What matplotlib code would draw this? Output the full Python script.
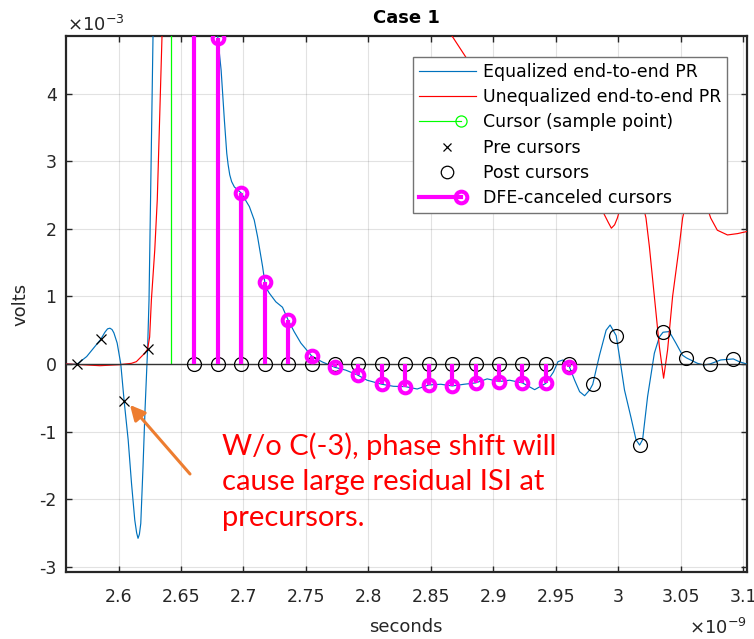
import matplotlib
matplotlib.use("Agg")
import matplotlib.pyplot as plt
from matplotlib.lines import Line2D
from matplotlib.legend_handler import HandlerBase

# ---------------- data (time in ns, i.e. x1e-9 s; volts in x1e-3) ----------------
eq_t = [2.5582, 2.5630, 2.5670, 2.5745, 2.5798, 2.58575, 2.5891, 2.5912, 2.5931, 2.5948,
        2.5963, 2.5989, 2.6018, 2.6045, 2.6077, 2.6104, 2.6130, 2.6145, 2.6156, 2.6167,
        2.6178, 2.6196, 2.6212, 2.62325, 2.6244, 2.6260, 2.6276, 2.6350, 2.6450, 2.6600,
        2.6700, 2.6780, 2.6795, 2.6821, 2.6847, 2.6866, 2.6877, 2.6890, 2.6905, 2.6927,
        2.69825, 2.7047, 2.7086, 2.7113, 2.7153, 2.7170, 2.7190, 2.7206, 2.7259, 2.7312,
        2.73575, 2.7405, 2.7459, 2.7545, 2.7631, 2.77325, 2.7817, 2.7910, 2.7989, 2.81075,
        2.8200, 2.8295, 2.8390, 2.84825, 2.8580, 2.8670, 2.8765, 2.88575, 2.8950, 2.9045,
        2.9130, 2.92325, 2.9330, 2.9420, 2.9480, 2.9517, 2.9557, 2.96075, 2.9650, 2.9690,
        2.9730, 2.9770, 2.9795, 2.9849, 2.9902, 2.9934, 2.99825, 3.0009, 3.0049, 3.0102,
        3.0141, 3.0170, 3.0194, 3.0234, 3.0288, 3.0328, 3.03575, 3.0407, 3.0460, 3.0513,
        3.0545, 3.0633, 3.0686, 3.07325, 3.0819, 3.0920, 3.0966, 3.1027]
eq_v = [0.00, -0.005, 0.00, 0.11, 0.23, 0.365, 0.47, 0.52, 0.53, 0.51,
        0.46, 0.31, 0.00, -0.55, -1.12, -1.77, -2.31, -2.50, -2.58, -2.52,
        -2.36, -1.52, -0.68, 0.22, 0.95, 2.90, 4.86, 10.0, 13.0, 10.0,
        7.50, 5.30, 4.82, 4.35, 3.61, 3.12, 2.95, 2.80, 2.70, 2.62,
        2.53, 2.33, 2.13, 1.88, 1.44, 1.22, 1.10, 1.05, 0.92, 0.84,
        0.65, 0.48, 0.31, 0.12, 0.03, -0.05, -0.09, -0.16, -0.24, -0.30,
        -0.33, -0.335, -0.37, -0.31, -0.30, -0.325, -0.30, -0.28, -0.22, -0.26,
        -0.24, -0.28, -0.38, -0.286, -0.12, 0.035, 0.06, -0.04, -0.24, -0.41,
        -0.47, -0.385, -0.30, 0.13, 0.50, 0.577, 0.42, 0.11, -0.385, -0.80,
        -1.12, -1.20, -1.12, -0.48, 0.16, 0.40, 0.47, 0.48, 0.31, 0.13,
        0.09, 0.01, -0.015, 0.00, 0.06, 0.075, 0.035, 0.00]

uneq_t = [2.5582, 2.5700, 2.5851, 2.6010, 2.6104, 2.6143, 2.6183, 2.6210, 2.62325, 2.6249,
          2.6263, 2.6290, 2.6310, 2.6330, 2.6348, 2.6400, 2.6600, 2.7500, 2.8200, 2.8667,
          2.8787, 2.9000, 2.9300, 2.9600, 2.9850, 2.9918, 2.9944, 2.9970, 2.9992, 3.0060,
          3.0140, 3.0221, 3.0248, 3.0288, 3.0328, 3.0362, 3.0394, 3.0434, 3.0487, 3.0514,
          3.0580, 3.0660, 3.0739, 3.0792, 3.0873, 3.0954, 3.1027]
uneq_v = [0.00, -0.01, -0.025, -0.01, 0.01, 0.035, 0.11, 0.16, 0.22, 0.40,
          0.95, 1.69, 2.43, 3.70, 4.86, 7.00, 10.0, 12.0, 8.00, 4.86,
          4.52, 4.00, 3.30, 2.75, 2.35, 2.10, 2.01, 2.06, 2.16, 2.60,
          2.80, 2.16, 1.74, 1.00, 0.26, -0.21, 0.21, 1.00, 1.74, 2.16,
          2.70, 2.60, 2.16, 1.98, 1.91, 1.93, 1.96]

cursor_t = [2.6420]
cursor_v = [12.0]

pre_t = [2.5670, 2.58575, 2.6045, 2.62325]
pre_v = [0.00, 0.37, -0.55, 0.22]

post_t = [2.66075, 2.6795, 2.69825, 2.7170, 2.73575, 2.7545, 2.77325, 2.7920, 2.81075, 2.8295,
          2.84825, 2.8670, 2.88575, 2.9045, 2.92325, 2.9420, 2.96075, 2.9795, 2.99825, 3.0170,
          3.03575, 3.0545, 3.07325, 3.0920]
post_v = [0, 0, 0, 0, 0, 0, 0, 0, 0, 0,
          0, 0, 0, 0, 0, 0, 0, -0.30, 0.42, -1.20,
          0.47, 0.09, 0.00, 0.075]

dfe_t = [2.66075, 2.6795, 2.69825, 2.7170, 2.73575, 2.7545, 2.77325, 2.7920, 2.81075, 2.8295,
         2.84825, 2.8670, 2.88575, 2.9045, 2.92325, 2.9420, 2.96075]
dfe_v = [8.00, 4.82, 2.53, 1.22, 0.65, 0.12, -0.05, -0.17, -0.30, -0.335,
         -0.31, -0.325, -0.28, -0.26, -0.28, -0.286, -0.04]

x_ticks = [2.6, 2.65, 2.7, 2.75, 2.8, 2.85, 2.9, 2.95, 3.0, 3.05, 3.1]
x_ticklabels = ["2.6", "2.65", "2.7", "2.75", "2.8", "2.85", "2.9", "2.95", "3", "3.05", "3.1"]
y_ticks = [-3, -2, -1, 0, 1, 2, 3, 4]
y_ticklabels = ["-3", "-2", "-1", "0", "1", "2", "3", "4"]

labels = ["Equalized end-to-end PR", "Unequalized end-to-end PR", "Cursor (sample point)",
          "Pre cursors", "Post cursors", "DFE-canceled cursors"]

# ---------------- styling ----------------
BLUE = (0.0, 0.447, 0.741)
RED = (1.0, 0.0, 0.0)
GREEN = (0.0, 1.0, 0.0)
MAG = (1.0, 0.0, 1.0)
AX = (0.15, 0.15, 0.15)

plt.rcParams['font.family'] = ['DejaVu Sans']

fig = plt.figure(figsize=(7.54, 6.39), dpi=100)
L, R, B, T = 66.3 / 754, 746.7 / 754, 1 - 572.3 / 639, 1 - 35.7 / 639
ax = fig.add_axes([L, B, R - L, T - B])

ax.plot(eq_t, eq_v, color=BLUE, lw=0.85, zorder=3)
ax.plot(uneq_t, uneq_v, color=RED, lw=0.85, zorder=3)
ax.vlines(cursor_t, 0, cursor_v, color=GREEN, lw=0.9, zorder=3)
ax.plot(cursor_t, cursor_v, 'o', mfc='none', mec=GREEN, ms=8, zorder=3)
ax.axhline(0, color=(0.2, 0.2, 0.2), lw=1.0, zorder=3.5)
ax.plot(pre_t, pre_v, 'x', color='black', ms=6.5, mew=0.9, zorder=4)
ax.plot(post_t, post_v, 'o', mfc='none', mec='black', ms=10, mew=0.9, zorder=4)
ax.vlines(dfe_t, 0, dfe_v, color=MAG, lw=3.0, zorder=5)
ax.plot(dfe_t, dfe_v, 'o', mfc='none', mec=MAG, ms=8.4, mew=2.9, zorder=5)

ax.set_xlim(2.5582, 3.1027)
ax.set_ylim(-3.083, 4.859)
ax.set_xticks(x_ticks)
ax.set_xticklabels(x_ticklabels)
ax.set_yticks(y_ticks)
ax.set_yticklabels(y_ticklabels)
ax.grid(True, color=(0.15, 0.15, 0.15), alpha=0.13, lw=0.8)
ax.set_axisbelow(True)
ax.tick_params(direction='in', top=True, right=True, length=4.5, width=1.0,
               colors=AX, labelsize=12.5)
ax.tick_params(axis='x', pad=11)
ax.tick_params(axis='y', pad=7)
for s in ax.spines.values():
    s.set_linewidth(1.6)
    s.set_color(AX)

ax.set_xlabel("seconds", fontsize=13, color=AX)
ax.xaxis.set_label_coords(0.499, -0.102)
ax.set_ylabel("volts", fontsize=13, color=AX)
ax.yaxis.set_label_coords(-0.068, 0.5)
ax.xaxis.label.set_va('center')
ax.yaxis.label.set_va('center')
ax.text(0.5, 1.033, "Case 1", transform=ax.transAxes, ha='center', va='center',
        fontsize=13, fontweight='bold', color='black')
ax.text(0.001, 1.02, r"$\times10^{-3}$", transform=ax.transAxes, ha='left', va='center',
        fontsize=13, color=AX)
ax.text(1.0, -0.104, r"$\times10^{-9}$", transform=ax.transAxes, ha='right', va='center',
        fontsize=13, color=AX)

# annotation
ax.annotate("", xy=(0.0936, 0.3118), xytext=(0.1818, 0.1832), xycoords='axes fraction',
            textcoords='axes fraction',
            arrowprops=dict(arrowstyle='-|>,head_length=0.9,head_width=0.45',
                            color=(0.93, 0.49, 0.19), lw=2.2, shrinkA=0, shrinkB=0),
            zorder=6)
ax.text((222 - 66.3) / 680.4, (572.3 - 432) / 536.6,
        "W/o C(-3), phase shift will\ncause large residual ISI at\nprecursors.",
        transform=ax.transAxes, ha='left', va='top', color=RED, fontsize=21,
        family=['Lato', 'DejaVu Sans'], linespacing=1.45, zorder=6)


# legend
class StemHandler(HandlerBase):
    def create_artists(self, legend, orig_handle, xdescent, ydescent, width, height,
                       fontsize, trans):
        y = (height - ydescent) / 2.0
        xm = -xdescent + 0.74 * width
        ln = Line2D([-xdescent, xm], [y, y], color=orig_handle.get_color(),
                    lw=orig_handle.get_linewidth())
        mk = Line2D([xm], [y], linestyle='none', marker='o',
                    markersize=orig_handle.get_markersize(), markerfacecolor='none',
                    markeredgecolor=orig_handle.get_markeredgecolor(),
                    markeredgewidth=orig_handle.get_markeredgewidth())
        ln.set_transform(trans)
        mk.set_transform(trans)
        return [ln, mk]


h_eq = Line2D([], [], color=BLUE, lw=0.85)
h_un = Line2D([], [], color=RED, lw=0.85)
h_cu = Line2D([], [], color=GREEN, lw=0.85, marker='o', mec=GREEN, ms=8, mew=0.9)
h_pre = Line2D([], [], color='black', ls='none', marker='x', ms=6, mew=0.9)
h_post = Line2D([], [], color='black', ls='none', marker='o', mfc='none', ms=9, mew=0.9)
h_dfe = Line2D([], [], color=MAG, lw=3.0, marker='o', mec=MAG, ms=8.4, mew=2.9)

leg = ax.legend([h_eq, h_un, h_cu, h_pre, h_post, h_dfe], labels,
                loc='upper right', bbox_to_anchor=(0.971, 0.9603),
                bbox_transform=ax.transAxes, fontsize=12.5, frameon=True, fancybox=False,
                framealpha=1.0, edgecolor=(0.45, 0.45, 0.45), borderpad=0.33,
                handlelength=3.3, handletextpad=0.4, labelspacing=0.42,
                borderaxespad=0.0, numpoints=1,
                handler_map={h_cu: StemHandler(), h_dfe: StemHandler()})
leg.get_frame().set_linewidth(1.0)
leg.set_zorder(10)
for t in leg.get_texts():
    t.set_color('black')

fig.savefig("out.png", dpi=100)
